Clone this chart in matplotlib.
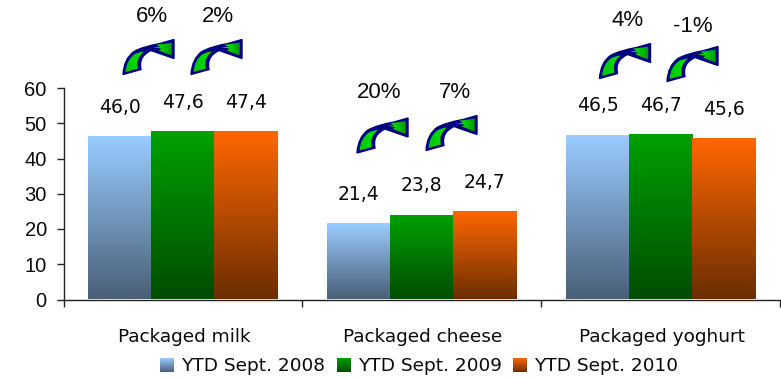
import numpy as np
import matplotlib
matplotlib.use("Agg")
import matplotlib.pyplot as plt
from matplotlib.colors import LinearSegmentedColormap
from matplotlib.patches import PathPatch
from matplotlib.path import Path

categories = ["Packaged milk", "Packaged cheese", "Packaged yoghurt"]
series_names = ["YTD Sept. 2008", "YTD Sept. 2009", "YTD Sept. 2010"]
ytd_2008 = [46.0, 21.4, 46.5]
ytd_2009 = [47.6, 23.8, 46.7]
ytd_2010 = [47.4, 24.7, 45.6]
growth_labels = ["6%", "2%", "20%", "7%", "4%", "-1%"]

W, H = 781, 379
LABEL_FONT = "DejaVu Sans"
TEXT_COLOR = "#0a0a0a"
AX_LEFT, AX_RIGHT = 63.5, 780

fig = plt.figure(figsize=(W / 100, H / 100), dpi=100)
ax = fig.add_axes([AX_LEFT / W, 1 - 299.5 / H, (AX_RIGHT - AX_LEFT) / W, 211.5 / H])

cmaps = [
    LinearSegmentedColormap.from_list("blue", ["#4a5f78", "#99ccff"]),
    LinearSegmentedColormap.from_list("green", ["#004d00", "#00a000"]),
    LinearSegmentedColormap.from_list("orange", ["#6b2e00", "#ff6600"]),
]
ramp = np.linspace(1, 0, 128).reshape(-1, 1)

# gradient bars: one image per bar, same colour range whatever the height
width = 0.264
for i, values in enumerate([ytd_2008, ytd_2009, ytd_2010]):
    for j, v in enumerate(values):
        x0 = j + 0.5 + (i - 1.5) * width
        ax.imshow(ramp, cmap=cmaps[i], extent=[x0, x0 + width, 0, v],
                  aspect="auto", zorder=2, vmin=0, vmax=1)
        ax.text(x0 + width / 2, v + 8.4, f"{v:.1f}".replace(".", ","),
                ha="center", va="center", fontsize=13.5, family=LABEL_FONT,
                color=TEXT_COLOR)

ax.set_xlim(0, 3)
ax.set_ylim(0, 60)
ax.patch.set_alpha(0)
ax.set_yticks(range(0, 61, 10))
ax.set_xticks([0, 1, 2, 3])
ax.set_xticklabels([])
ax.tick_params(axis="both", length=5, width=1, color="#222222")
ax.tick_params(axis="y", labelsize=14.5, pad=7, labelcolor=TEXT_COLOR,
               labelfontfamily="Liberation Sans")
for side in ["top", "right"]:
    ax.spines[side].set_visible(False)
for side in ["left", "bottom"]:
    ax.spines[side].set_linewidth(1)
    ax.spines[side].set_color("#222222")
    ax.spines[side].set_zorder(3)

# overlay in pixel units for arrows, category names and the legend
ov = fig.add_axes([0, 0, 1, 1])
ov.axis("off")

for j, name in enumerate(categories):
    cx = AX_LEFT + (j + 0.5) * (AX_RIGHT - AX_LEFT) / 3
    ov.text(cx + 1, 337.5, name, ha="center", va="center", fontsize=13.3,
            family=LABEL_FONT, color=TEXT_COLOR)

arrow_fill = LinearSegmentedColormap.from_list(
    "arrow", ["#00c000", "#00e000", "#00e800", "#009000"])

# arrow silhouette, then the two green panels that sit inside it
outline_verts = [(0, 35), (1, 19), (11, 12), (20, 7), (37, 4), (51, 0), (51, 19),
                 (28, 11), (15, 17), (18, 30), (0, 35)]
outline_codes = [Path.MOVETO, Path.CURVE3, Path.CURVE3, Path.CURVE3, Path.CURVE3,
                 Path.LINETO, Path.LINETO, Path.LINETO, Path.CURVE3, Path.CURVE3,
                 Path.CLOSEPOLY]
body_verts = [(2.5, 32.5), (3.5, 20), (12, 14.5), (16, 12.5), (21, 12), (12, 19), (15, 29),
              (2.5, 32.5)]
body_codes = [Path.MOVETO, Path.CURVE3, Path.CURVE3, Path.CURVE3, Path.CURVE3,
              Path.CURVE3, Path.CURVE3, Path.CLOSEPOLY]
head_verts = [(30, 7.5), (37, 7.5), (33.5, 5.2), (48.7, 3.2), (48.7, 16), (36, 11),
              (38.5, 9.2), (30, 7.5)]
head_codes = [Path.MOVETO] + [Path.LINETO] * 6 + [Path.CLOSEPOLY]

arrow_xy = [(123, 39.5), (191, 39.5), (357, 118), (426, 115.5), (599.5, 43.5), (667, 46.5)]
text_xy = [(152, 17), (218, 17), (379, 93), (455, 93), (628, 20), (693, 27)]

for (ox, oy), (tx, ty), lab in zip(arrow_xy, text_xy, growth_labels):
    shifted = lambda pts: [(ox + px, oy + py) for px, py in pts]
    ov.add_patch(PathPatch(Path(shifted(outline_verts), outline_codes),
                           facecolor="#000080", edgecolor="#000080", linewidth=1.0,
                           joinstyle="miter", zorder=4))
    for verts, codes in [(body_verts, body_codes), (head_verts, head_codes)]:
        panel = PathPatch(Path(shifted(verts), codes), facecolor="none",
                          edgecolor="none", zorder=5)
        ov.add_patch(panel)
        img = ov.imshow(np.linspace(0, 1, 64).reshape(1, -1), cmap=arrow_fill,
                        extent=[ox, ox + 51, oy + 35, oy], aspect="auto", zorder=5)
        img.set_clip_path(panel)
    ov.text(tx, ty, lab, ha="center", va="center", fontsize=16,
            family="Liberation Sans", color=TEXT_COLOR)

swatch_x = [160, 337, 513]
for x0, name, cm in zip(swatch_x, series_names, cmaps):
    ov.imshow(ramp, cmap=cm, extent=[x0, x0 + 14, 372, 358], aspect="auto",
              vmin=0, vmax=1, zorder=4)
    ov.text(x0 + 21, 366, name, ha="left", va="center", fontsize=13.3,
            family=LABEL_FONT, color=TEXT_COLOR)

ov.set_xlim(0, W)
ov.set_ylim(H, 0)

fig.savefig("out.png", dpi=100)
